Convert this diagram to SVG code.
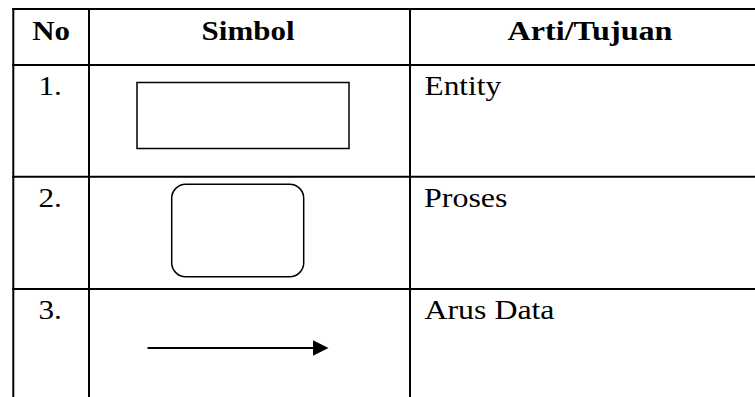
<svg xmlns="http://www.w3.org/2000/svg" width="755" height="397" viewBox="0 0 755 397">
<style>
.grid{stroke:#000;stroke-width:2;fill:none}
.t{font-family:"Liberation Serif","Times New Roman",serif;font-size:27px;fill:#000}
.b{font-weight:bold}
.sym{stroke:#000;stroke-width:1.5;fill:#fff}
</style>
<rect width="755" height="397" fill="#fff"/>
<g id="table-grid" class="grid">
<line x1="12.3" y1="9" x2="755" y2="9"/>
<line x1="13.3" y1="8" x2="13.3" y2="397"/>
<line x1="89" y1="8" x2="89" y2="397"/>
<line x1="410" y1="8" x2="410" y2="397"/>
<line x1="12.3" y1="65" x2="755" y2="65"/>
<line x1="12.3" y1="176.7" x2="755" y2="176.7"/>
<line x1="12.3" y1="289" x2="755" y2="289"/>
</g>
<g id="header">
<text class="t b" x="32.2" y="39.5" textLength="37.8" lengthAdjust="spacingAndGlyphs">No</text>
<text class="t b" x="201.6" y="39.5" textLength="92.9" lengthAdjust="spacingAndGlyphs">Simbol</text>
<text class="t b" x="507.5" y="39.5" textLength="165" lengthAdjust="spacingAndGlyphs">Arti/Tujuan</text>
</g>
<g id="row-entity">
<text class="t" x="38.5" y="95" textLength="23.4" lengthAdjust="spacingAndGlyphs">1.</text>
<rect id="entity" class="sym" x="137" y="82.5" width="212" height="66"/>
<text class="t" x="424.5" y="95" textLength="76.7" lengthAdjust="spacingAndGlyphs">Entity</text>
</g>
<g id="row-proses">
<text class="t" x="38.5" y="207" textLength="23.4" lengthAdjust="spacingAndGlyphs">2.</text>
<rect id="proses" class="sym" x="171.7" y="184.3" width="132" height="92.4" rx="14" ry="14"/>
<text class="t" x="424" y="207" textLength="83.5" lengthAdjust="spacingAndGlyphs">Proses</text>
</g>
<g id="row-arus">
<text class="t" x="38.5" y="318.5" textLength="23.4" lengthAdjust="spacingAndGlyphs">3.</text>
<text class="t" x="424.5" y="318.5" textLength="130" lengthAdjust="spacingAndGlyphs">Arus Data</text>
</g>
<g id="connectors">
<line x1="147.5" y1="348" x2="313.5" y2="348" stroke="#000" stroke-width="2.2"/>
<path d="M313,340.2 L328.5,348 L313,355.8 Z" fill="#000"/>
</g>
</svg>
